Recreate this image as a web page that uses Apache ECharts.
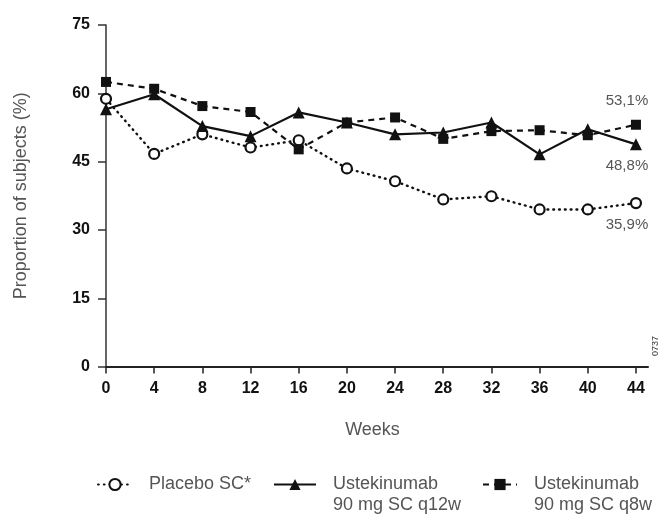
<!DOCTYPE html>
<html>
<head>
<meta charset="utf-8">
<script src="https://cdn.jsdelivr.net/npm/echarts@6/dist/echarts.min.js"></script>
<style>html,body{margin:0;padding:0;background:#fff}#c{width:662px;height:514px}</style>
</head>
<body>
<div id="c"></div>
<script>
var weeks = [0, 4, 8, 12, 16, 20, 24, 28, 32, 36, 40, 44];
var placebo = [58.8, 46.7, 51.0, 48.1, 49.7, 43.5, 40.7, 36.7, 37.4, 34.5, 34.5, 35.9];
var q12w = [56.5, 59.8, 52.8, 50.6, 55.8, 53.6, 51.0, 51.4, 53.6, 46.6, 52.1, 48.8];
var q8w = [62.5, 61.0, 57.2, 55.9, 47.7, 53.6, 54.7, 50.0, 51.7, 51.9, 50.8, 53.1];
var yTicks = [0, 15, 30, 45, 60, 75];
var seriesNames = ['Placebo SC*', 'Ustekinumab 90 mg SC q12w', 'Ustekinumab 90 mg SC q8w'];
var legendTexts = [' \nPlacebo SC*\n ', ' \nUstekinumab\n90 mg SC q12w', ' \nUstekinumab\n90 mg SC q8w'];
var endLabels = ['35,9%', '48,8%', '53,1%'];
var figId = '0737';

var FONT = 'Liberation Sans, Arial, sans-serif';
function pairs(vals) { return weeks.map(function (w, i) { return [w, vals[i]]; }); }
function withEndLabel(vals, text, pos, off) {
  var d = pairs(vals);
  var last = d.length - 1;
  d[last] = {
    value: d[last],
    label: { show: true, position: pos, offset: off, formatter: text,
      color: '#555', fontSize: 15, fontFamily: FONT }
  };
  return d;
}
var chart = echarts.init(document.getElementById('c'), null, { renderer: 'canvas' });
var legendBase = {
  top: 453, padding: 0, itemHeight: 14, itemWidth: 34,
  formatter: function (n) { return legendTexts[seriesNames.indexOf(n)]; },
  textStyle: { color: '#555', fontSize: 18, fontFamily: FONT, lineHeight: 21, padding: [0, 0, 0, 12] }
};
chart.setOption({
  animation: false,
  backgroundColor: '#fff',
  grid: { left: 106, right: 14, top: 25, bottom: 147.4, containLabel: false },
  legend: [
    Object.assign({}, legendBase, { left: 97, data: [seriesNames[0]] }),
    Object.assign({}, legendBase, { left: 273, itemWidth: 42, data: [seriesNames[1]] }),
    Object.assign({}, legendBase, { left: 482, data: [seriesNames[2]] })
  ],
  xAxis: {
    type: 'value', min: 0, max: 45, interval: 4,
    name: 'Weeks', nameLocation: 'middle', nameGap: 54,
    nameTextStyle: { color: '#555', fontSize: 18, fontFamily: FONT, padding: [0, 9, 0, 0] },
    axisLine: { show: true, onZero: false, lineStyle: { color: '#222', width: 2 } },
    axisTick: { show: true, length: 7, lineStyle: { color: '#222', width: 1.5 }, customValues: weeks },
    axisLabel: { color: '#111', fontSize: 16, fontWeight: 'bold', fontFamily: FONT, margin: 14, customValues: weeks },
    splitLine: { show: false }
  },
  yAxis: {
    type: 'value', min: 0, max: 75, interval: 15,
    name: 'Proportion of subjects (%)', nameLocation: 'middle', nameGap: 76,
    nameTextStyle: { color: '#555', fontSize: 18, fontFamily: FONT },
    axisLine: { show: true, lineStyle: { color: '#333', width: 1.5 } },
    axisTick: { show: true, length: 8, lineStyle: { color: '#333', width: 1.5 } },
    axisLabel: { color: '#111', fontSize: 16, fontWeight: 'bold', fontFamily: FONT, margin: 16,
      formatter: function (v) { return yTicks.indexOf(v) >= 0 ? String(v) : ''; } },
    splitLine: { show: false }
  },
  series: [
    {
      name: seriesNames[0], type: 'line', data: withEndLabel(placebo, endLabels[0], 'bottom', [-9, 3]),
      symbol: 'circle', symbolSize: 10, z: 3,
      lineStyle: { color: '#111', width: 2.4, type: [0.8, 5], cap: 'round' },
      itemStyle: { color: '#fff', borderColor: '#111', borderWidth: 2.2 }
    },
    {
      name: seriesNames[1], type: 'line', data: withEndLabel(q12w, endLabels[1], 'bottom', [-9, 3]),
      symbol: 'triangle', symbolSize: 12, z: 4,
      lineStyle: { color: '#111', width: 2.2, type: 'solid' },
      itemStyle: { color: '#111', borderColor: '#111', borderWidth: 0 }
    },
    {
      name: seriesNames[2], type: 'line', data: withEndLabel(q8w, endLabels[2], 'top', [-9, -6]),
      symbol: 'rect', symbolSize: 10, z: 5,
      lineStyle: { color: '#111', width: 2.2, type: [6, 5] },
      itemStyle: { color: '#111', borderColor: '#111', borderWidth: 0 }
    }
  ],
  graphic: [
    { type: 'text', left: 651, top: 336, rotation: Math.PI / 2,
      style: { text: figId, fontSize: 9, fill: '#333', fontFamily: FONT } }
  ]
});
</script>
</body>
</html>
